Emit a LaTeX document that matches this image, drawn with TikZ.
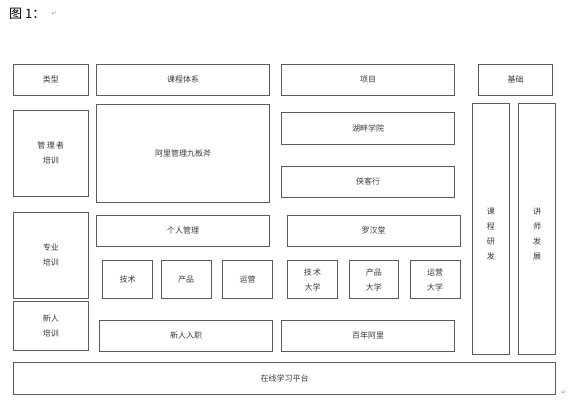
\documentclass[tikz,border=0pt]{standalone}
\usepackage{fontspec}
\setmainfont{Noto Sans CJK SC}
\newfontfamily\symfont{DejaVu Sans}
\usetikzlibrary{shadows}
\definecolor{boxline}{HTML}{5A5A5A}
\definecolor{boxtext}{HTML}{3A3A3A}
\tikzset{
  bx/.style={draw=boxline, line width=0.7pt, fill=white, inner sep=0pt,
    text=boxtext, align=center, font=\fontsize{8}{15}\selectfont,
    drop shadow={shadow xshift=0.6pt, shadow yshift=-0.6pt, fill=black!55, opacity=1}},
  vtext/.style={inner sep=0pt, text=boxtext, align=center, font=\fontsize{8}{15}\selectfont},
  retmark/.style={text=black!45, font=\symfont\fontsize{6}{6}\selectfont, inner sep=0pt}
}
\begin{document}
\begin{tikzpicture}[x=1pt,y=-1pt]
\useasboundingbox (0,0) rectangle (574,407);
% caption
\node[anchor=west, inner sep=0pt, font=\fontsize{13}{13}\selectfont] (cap) at (9,14) {图 1：};
\node[retmark, anchor=west] (cr1) at ([xshift=6pt]cap.east) {↵};
% header row
\node[bx, minimum width=75pt, minimum height=31pt] (leixing) at (50.8,79.5) {类型};
\node[bx, minimum width=172.6pt, minimum height=31pt] (kctx) at (183,79.5) {课程体系};
\node[bx, minimum width=172.6pt, minimum height=31pt] (xiangmu) at (368,79.5) {项目};
\node[bx, minimum width=74.4pt, minimum height=31pt] (jichu) at (515.5,79.5) {基础};
% left column
\node[bx, minimum width=75pt, minimum height=86.7pt] (glz) at (50.8,153.3) {管\,理\,者\\培训};
\node[bx, minimum width=75pt, minimum height=86pt] (zy) at (50.8,255.3) {专业\\培训};
\node[bx, minimum width=75pt, minimum height=49pt] (xr) at (50.8,326.2) {新人\\培训};
% course system
\node[bx, minimum width=172.6pt, minimum height=98.4pt] (jbf) at (183,153.5) {阿里管理九板斧};
\node[bx, minimum width=172.6pt, minimum height=31pt] (geren) at (183,230.5) {个人管理};
\node[bx, minimum width=49.6pt, minimum height=37.6pt] (js) at (127.5,279.5) {技术};
\node[bx, minimum width=49.6pt, minimum height=37.6pt] (cp) at (186.2,279.5) {产品};
\node[bx, minimum width=49.6pt, minimum height=37.6pt] (yy) at (247.5,279.5) {运营};
\node[bx, minimum width=172.6pt, minimum height=31pt] (xrrz) at (186,335.5) {新人入职};
% projects
\node[bx, minimum width=172.6pt, minimum height=31.6pt] (hp) at (368,128.5) {湖畔学院};
\node[bx, minimum width=172.6pt, minimum height=31.3pt] (xkx) at (368,181.7) {侠客行};
\node[bx, minimum width=172.7pt, minimum height=31pt] (lht) at (373.7,230.5) {罗汉堂};
\node[bx, minimum width=49.6pt, minimum height=37.6pt] (jsdx) at (312.5,279.5) {技\,术\\大学};
\node[bx, minimum width=49.6pt, minimum height=37.6pt] (cpdx) at (373.9,279.5) {产品\\大学};
\node[bx, minimum width=49.6pt, minimum height=37.6pt] (yydx) at (435.2,279.5) {运营\\大学};
\node[bx, minimum width=172.6pt, minimum height=31pt] (bnal) at (368,335.5) {百年阿里};
% foundation columns
\node[bx, minimum width=37pt, minimum height=250.7pt] (kcyf) at (490.8,228.7) {};
\node[vtext] (kcyft) at ([yshift=-5pt]kcyf.center) {课\\程\\研\\发};
\node[bx, minimum width=37.4pt, minimum height=250.7pt] (jsfz) at (537,228.7) {};
\node[vtext] (jsfzt) at ([yshift=-5pt]jsfz.center) {讲\\师\\发\\展};
% platform
\node[bx, minimum width=542.4pt, minimum height=31.6pt] (zx) at (284.5,378.5) {在线学习平台};
\node[retmark, anchor=south west] (cr2) at ([xshift=5pt]zx.south east) {↵};
\end{tikzpicture}
\end{document}
